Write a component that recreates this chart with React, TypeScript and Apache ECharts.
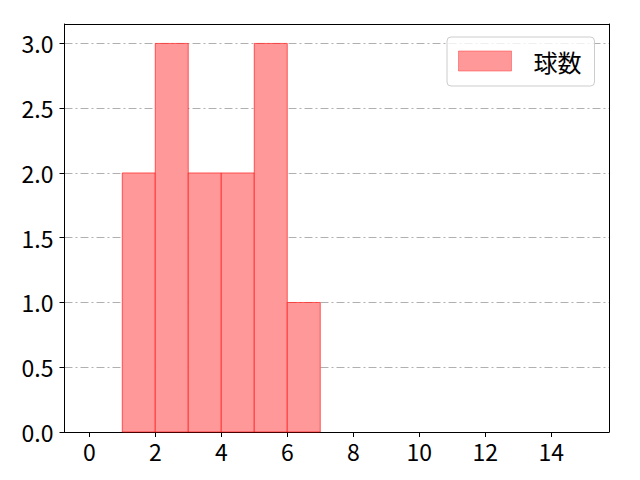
import { useEffect, useRef } from "react";
import * as echarts from "echarts";

// histogram bins (left edges) and counts
const binStarts = [1, 2, 3, 4, 5, 6];
const binWidth = 1;
const counts = [2, 3, 2, 2, 3, 1];
const xTicks = [0, 2, 4, 6, 8, 10, 12, 14];
const yTicks = [0, 0.5, 1, 1.5, 2, 2.5, 3];
const seriesName = "球数";

const FONT = "'Noto Sans CJK JP', 'Noto Sans', sans-serif";

export default function App() {
  const chartRef = useRef<HTMLDivElement>(null);

  useEffect(() => {
    document.body.style.margin = "0";
    if (!chartRef.current) return;
    const chart = echarts.init(chartRef.current, null, { renderer: "svg" });

    const barData = binStarts.map((s, i) => [s, s + binWidth, counts[i]]);

    chart.setOption({
      animation: false,
      backgroundColor: "#ffffff",
      textStyle: { fontFamily: FONT },
      grid: { left: 64.5, right: 31, top: 24, bottom: 48 },
      legend: {
        left: 447,
        top: 37,
        padding: [12, 13, 13, 11],
        itemWidth: 53,
        itemHeight: 20,
        backgroundColor: "rgba(255,255,255,0.8)",
        borderColor: "#cccccc",
        borderWidth: 1,
        borderRadius: 4,
        textStyle: {
          fontSize: 24,
          color: "#000000",
          fontFamily: FONT,
          padding: [0, 0, 0, 17],
          lineHeight: 20,
        },
        data: [
          {
            name: seriesName,
            icon: "rect",
            itemStyle: { color: "#ff9999", borderColor: "rgba(255,60,60,0.5)", borderWidth: 1 },
          },
        ],
      },
      xAxis: [
        {
          type: "value",
          min: -0.75,
          max: 15.75,
          axisLine: { show: true, onZero: false, lineStyle: { color: "#000000", width: 1 } },
          axisTick: { show: true, length: 5, customValues: xTicks, lineStyle: { color: "#000000" } },
          axisLabel: {
            customValues: xTicks,
            fontSize: 23,
            color: "#000000",
            margin: 7,
            fontFamily: FONT,
          },
          splitLine: { show: false },
        },
        {
          type: "value",
          position: "top",
          min: -0.75,
          max: 15.75,
          axisLine: { show: true, onZero: false, lineStyle: { color: "#000000", width: 1 } },
          axisTick: { show: false },
          axisLabel: { show: false },
          splitLine: { show: false },
        },
      ],
      yAxis: [
        {
          type: "value",
          min: 0,
          max: 3.15,
          interval: 0.5,
          axisLine: { show: true, onZero: false, lineStyle: { color: "#000000", width: 1 } },
          axisTick: { show: true, length: 5, customValues: yTicks, lineStyle: { color: "#000000" } },
          axisLabel: {
            customValues: yTicks,
            fontSize: 23,
            color: "#000000",
            margin: 11,
            fontFamily: FONT,
            formatter: (v: number) => v.toFixed(1),
          },
          splitLine: {
            show: true,
            lineStyle: { color: "#b0b0b0", width: 1, type: [8, 3, 2, 3] },
          },
        },
        {
          type: "value",
          position: "right",
          min: 0,
          max: 3.15,
          axisLine: { show: true, onZero: false, lineStyle: { color: "#000000", width: 1 } },
          axisTick: { show: false },
          axisLabel: { show: false },
          splitLine: { show: false },
        },
      ],
      series: [
        {
          name: seriesName,
          type: "custom",
          xAxisIndex: 0,
          yAxisIndex: 0,
          z: 1,
          itemStyle: { color: "#ff9999" },
          encode: { x: [0, 1], y: 2 },
          data: barData,
          renderItem: (_params: any, api: any) => {
            const p0 = api.coord([api.value(0), api.value(2)]);
            const p1 = api.coord([api.value(1), 0]);
            return {
              type: "rect",
              shape: { x: p0[0], y: p0[1], width: p1[0] - p0[0], height: p1[1] - p0[1] },
              style: {
                fill: "#ff9999",
                stroke: "rgba(255,0,0,0.6)",
                lineWidth: 1,
              },
            };
          },
        },
      ],
    });

    return () => {
      chart.dispose();
    };
  }, []);

  return <div ref={chartRef} style={{ width: 640, height: 480 }} />;
}
